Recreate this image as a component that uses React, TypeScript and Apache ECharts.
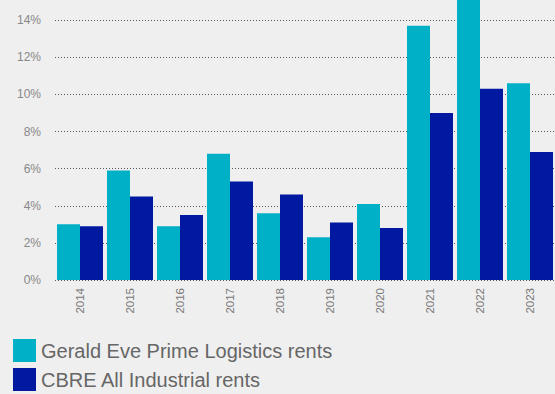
import React, { useEffect, useRef } from "react";
import * as echarts from "echarts";

const years = ["2014", "2015", "2016", "2017", "2018", "2019", "2020", "2021", "2022", "2023"];
const geraldEve = [3.0, 5.9, 2.9, 6.8, 3.6, 2.3, 4.1, 13.7, 15.6, 10.6];
const cbre = [2.9, 4.5, 3.5, 5.3, 4.6, 3.1, 2.8, 9.0, 10.3, 6.9];
const seriesNames = ["Gerald Eve Prime Logistics rents", "CBRE All Industrial rents"];

const SHIFT = 17;

export default function App() {
  const ref = useRef<HTMLDivElement>(null);
  useEffect(() => {
    document.body.style.margin = "0";
    document.body.style.overflow = "hidden";
    document.body.style.background = "#efefef";
    const chart = echarts.init(ref.current!, null, { renderer: "svg" });
    chart.setOption({
      animation: false,
      backgroundColor: "#efefef",
      textStyle: { fontFamily: "Liberation Sans, Arial, sans-serif" },
      grid: { left: 55, top: 0, width: 502, height: 297 },
      legend: {
        orient: "vertical",
        left: 13,
        top: 339 + SHIFT,
        padding: 0,
        itemWidth: 23,
        itemHeight: 23,
        itemGap: 6,
        icon: "rect",
        data: seriesNames,
        textStyle: { fontSize: 20, color: "#666666" },
      },
      xAxis: {
        type: "category",
        data: years,
        axisLine: { show: false },
        axisTick: { show: false },
        axisLabel: { rotate: 90, margin: 8, fontSize: 11.5, color: "#777777" },
      },
      yAxis: {
        type: "value",
        min: 0,
        max: 16,
        interval: 2,
        axisLabel: {
          formatter: "{value}%",
          fontSize: 12,
          color: "#888888",
          margin: 14,
          showMaxLabel: false,
        },
        splitLine: { lineStyle: { type: [1, 2], color: "#555555", width: 1 } },
        axisLine: { show: false },
        axisTick: { show: false },
      },
      series: [
        {
          name: seriesNames[0],
          type: "bar",
          data: geraldEve,
          barWidth: 23,
          barGap: "0%",
          itemStyle: { color: "#00b0c7" },
        },
        {
          name: seriesNames[1],
          type: "bar",
          data: cbre,
          barWidth: 23,
          barGap: "0%",
          itemStyle: { color: "#0019a0" },
        },
      ],
    });
    return () => chart.dispose();
  }, []);
  return <div ref={ref} style={{ width: 555, height: 394 + SHIFT, marginTop: -SHIFT }} />;
}
